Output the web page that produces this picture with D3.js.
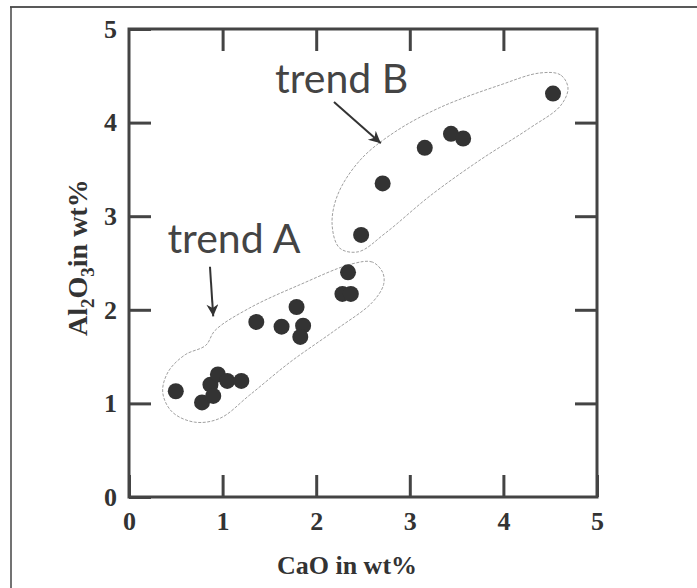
<!DOCTYPE html>
<html>
<head>
<meta charset="utf-8">
<script src="https://cdn.jsdelivr.net/npm/d3@7"></script>
<style>
  body { margin: 0; background: #fff; }
  svg { display: block; }
</style>
</head>
<body>
<div id="chart"></div>
<script>
// CaO vs Al2O3 (wt%)
var cao   = [0.50, 0.78, 0.87, 0.90, 0.95, 1.05, 1.20, 1.36, 1.63, 1.79, 1.86, 1.83, 2.34, 2.28, 2.37, 2.48, 2.71, 3.16, 3.44, 3.57, 4.53];
var al2o3 = [1.13, 1.01, 1.20, 1.08, 1.31, 1.24, 1.24, 1.87, 1.82, 2.03, 1.83, 1.71, 2.40, 2.17, 2.17, 2.80, 3.35, 3.73, 3.88, 3.83, 4.31];
var tickValues = [0, 1, 2, 3, 4, 5];

// hand-drawn outlines round the two groups (data units)
var outlineA = [[2.71, 2.40], [2.60, 2.51], [2.38, 2.49], [1.83, 2.27], [1.29, 2.02], [0.92, 1.78], [0.82, 1.62],
                [0.60, 1.52], [0.42, 1.34], [0.36, 1.12], [0.46, 0.91], [0.70, 0.80], [0.97, 0.84], [1.29, 1.09],
                [1.72, 1.44], [2.20, 1.78], [2.60, 2.08], [2.72, 2.27]];
var outlineB = [[4.69, 4.37], [4.61, 4.51], [4.39, 4.53], [3.96, 4.40], [3.32, 4.16], [2.84, 3.90], [2.47, 3.60],
                [2.23, 3.23], [2.17, 2.91], [2.25, 2.66], [2.45, 2.62], [2.74, 2.82], [3.22, 3.22], [3.75, 3.60],
                [4.28, 3.94], [4.61, 4.18]];
var labels = [{text: "trend A", x: 0.41, y: 2.61, from: [0.865, 2.46], to: [0.90, 1.93]},
              {text: "trend B", x: 1.56, y: 4.32, from: [2.19, 4.22], to: [2.69, 3.78]}];

var width = 697, height = 588;
var x0 = 129, x1 = 597, y0 = 497, y1 = 29;
var ink = "#444";

var svg = d3.select("#chart").append("svg")
    .attr("width", width)
    .attr("height", height);

// scan frame
svg.append("line").attr("x1", 10).attr("x2", width).attr("y1", 7).attr("y2", 7)
    .attr("stroke", "#222").attr("stroke-width", 1.5);
svg.append("line").attr("x1", 11).attr("x2", 11).attr("y1", 7).attr("y2", height)
    .attr("stroke", "#444").attr("stroke-width", 1.5);

var x = d3.scaleLinear().domain([0, 5]).range([x0, x1]);
var y = d3.scaleLinear().domain([0, 5]).range([y0, y1]);

var serif = "'Liberation Serif', 'Times New Roman', serif";

function styleAxis(g) {
    g.select(".domain").remove();
    g.selectAll(".tick line").attr("stroke", ink).attr("stroke-width", 3);
    g.selectAll(".tick text")
        .attr("fill", "#333")
        .style("font-family", serif)
        .style("font-weight", "bold")
        .style("font-size", "26px");
}

svg.append("g").attr("transform", "translate(0," + y0 + ")")
    .call(d3.axisBottom(x).tickValues(tickValues).tickSize(-22).tickPadding(15).tickFormat(d3.format("d")))
    .call(styleAxis);
svg.append("g").attr("transform", "translate(" + x0 + ",0)")
    .call(d3.axisLeft(y).tickValues(tickValues).tickSize(-22).tickPadding(12).tickFormat(d3.format("d")))
    .call(styleAxis);
svg.append("g").attr("transform", "translate(0," + y1 + ")")
    .call(d3.axisTop(x).tickValues([1, 2, 3, 4]).tickSize(-22).tickFormat(""))
    .call(styleAxis);
svg.append("g").attr("transform", "translate(" + x1 + ",0)")
    .call(d3.axisRight(y).tickValues([1, 2, 3, 4]).tickSize(-22).tickFormat(""))
    .call(styleAxis);

svg.append("rect")
    .attr("x", x0).attr("y", y1)
    .attr("width", x1 - x0).attr("height", y0 - y1)
    .attr("fill", "none")
    .attr("stroke", ink)
    .attr("stroke-width", 3);

// outlines
var line = d3.line()
    .x(function(d) { return x(d[0]); })
    .y(function(d) { return y(d[1]); })
    .curve(d3.curveCatmullRomClosed.alpha(0.5));

svg.selectAll("path.outline")
    .data([outlineA, outlineB])
    .enter().append("path")
    .attr("class", "outline")
    .attr("d", line)
    .attr("fill", "none")
    .attr("stroke", "#a0a0a0")
    .attr("stroke-width", 1)
    .attr("stroke-dasharray", "3,1.5");

// points
svg.selectAll("circle.pt")
    .data(d3.range(cao.length))
    .enter().append("circle")
    .attr("class", "pt")
    .attr("cx", function(i) { return x(cao[i]); })
    .attr("cy", function(i) { return y(al2o3[i]); })
    .attr("r", 8)
    .attr("fill", "#333");

// annotations
svg.append("defs").append("marker")
    .attr("id", "head")
    .attr("viewBox", "0 0 10 10")
    .attr("refX", 10).attr("refY", 5)
    .attr("markerWidth", 15).attr("markerHeight", 12)
    .attr("markerUnits", "userSpaceOnUse")
    .attr("orient", "auto")
    .append("path")
    .attr("d", "M0,0 L10,5 L0,10 L3,5 Z")
    .attr("fill", "#333");

var ann = svg.selectAll("g.ann")
    .data(labels)
    .enter().append("g")
    .attr("class", "ann");

ann.append("text")
    .attr("x", function(d) { return x(d.x); })
    .attr("y", function(d) { return y(d.y); })
    .attr("fill", ink)
    .style("font-family", "Lato, 'DejaVu Sans', sans-serif")
    .style("font-weight", 400)
    .style("font-size", "41px")
    .text(function(d) { return d.text; });

ann.append("line")
    .attr("x1", function(d) { return x(d.from[0]); })
    .attr("y1", function(d) { return y(d.from[1]); })
    .attr("x2", function(d) { return x(d.to[0]); })
    .attr("y2", function(d) { return y(d.to[1]); })
    .attr("stroke", "#333")
    .attr("stroke-width", 2)
    .attr("marker-end", "url(#head)");

// axis titles
svg.append("text")
    .attr("x", 347).attr("y", 574)
    .attr("text-anchor", "middle")
    .attr("fill", "#333")
    .style("font-family", serif)
    .style("font-weight", "bold")
    .style("font-size", "26px")
    .text("CaO in wt%");

var yt = svg.append("text")
    .attr("transform", "translate(87,336) rotate(-90)")
    .attr("fill", "#333")
    .style("font-family", serif)
    .style("font-weight", "bold")
    .style("font-size", "28px");
yt.append("tspan").text("Al");
yt.append("tspan").attr("dy", 7).style("font-size", "19px").text("2");
yt.append("tspan").attr("dy", -7).text("O");
yt.append("tspan").attr("dy", 7).style("font-size", "19px").text("3");
yt.append("tspan").attr("dy", -7).text("in wt%");
</script>
</body>
</html>
